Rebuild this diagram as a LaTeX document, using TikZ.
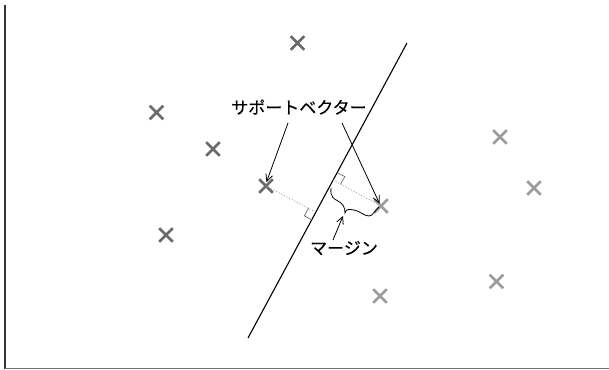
\documentclass[tikz,border=0pt]{standalone}
\usepackage{fontspec}
\newfontfamily\jp[FakeBold=0.4]{Noto Sans CJK JP}
\usetikzlibrary{shapes.misc,arrows.meta,calc}
\definecolor{darkx}{HTML}{6A6A6A}
\definecolor{lightx}{HTML}{9C9C9C}
\tikzset{
  xmark/.style={cross out,draw,minimum size=11pt,inner sep=0pt,line width=2.6pt},
  xdark/.style={xmark,draw=darkx},
  xlight/.style={xmark,draw=lightx},
  lbl/.style={font=\jp\fontsize{17}{20}\selectfont,inner sep=0pt,text=black},
  arr/.style={-{Straight Barb[length=7pt,width=7pt]},line width=0.8pt},
  dist/.style={dotted,draw=lightx,line width=0.9pt},
  rmark/.style={draw=darkx,line width=0.7pt},
}
\begin{document}
\begin{tikzpicture}[x=1pt,y=-1pt]
\useasboundingbox (0,0) rectangle (609,369);
% axes
\draw[line width=1.5pt,black!80] (5,5) -- (5,368.5);
\draw[line width=1.5pt,black!55] (5,368.5) -- (609,368.5);
% separating line
\coordinate (h1) at (248,338);
\coordinate (h2) at (407,43);
\draw[line width=1.1pt] (h1) -- (h2);
% dark crosses
\node[xdark] (a1) at (297.5,43) {};
\node[xdark] (a2) at (156.5,112.5) {};
\node[xdark] (a3) at (213,149) {};
\node[xdark] (s1) at (266,186) {};
\node[xdark] (a5) at (166,235) {};
% light crosses
\node[xlight] (b1) at (500,137) {};
\node[xlight] (b2) at (534,188) {};
\node[xlight] (s2) at (381,206) {};
\node[xlight] (b4) at (496.5,281.5) {};
\node[xlight] (b5) at (380,296) {};
% feet on the line
\coordinate (f1) at (316,212.3);
\coordinate (f2) at (333.1,180.1);
\draw[dist] (s1.center) -- (f1);
\draw[dist] (f2) -- (s2.center);
% right-angle marks
\draw[rmark] ($(f1)+(-7.5,-4.0)$) -- ++(-4.2,7.5) -- ($(f1)+(-4.2,7.5)$);
\draw[rmark] ($(f2)+(7.5,4.0)$) -- ++(4.2,-7.5) -- ($(f2)+(4.2,-7.5)$);
% labels
\node[lbl] (sv) at (299,107) {サポートベクター};
\node[lbl] (mg) at (344,248) {マージン};
% arrows
\coordinate (sva) at (288,123);
\coordinate (svb) at (342,123);
\draw[arr] (sva) -- ($(s1.center)+(0.5,-4)$);
\draw[arr] (svb) -- ($(s2.center)+(-1.5,-2.5)$);
% brace
\coordinate (bc) at (345,213);
\draw[line width=0.8pt] (331,188) .. controls (330,197) and (334,199) .. (338,201)
  .. controls (343,204) and (345,207) .. (bc)
  .. controls (346,209) and (349,209) .. (354,210)
  .. controls (360,211) and (364,216) .. (369,216)
  .. controls (373,216) and (375,210) .. (379,207);
\coordinate (mga) at (333,240);
\draw[arr] (mga) -- ($(bc)+(-2,3)$);
\end{tikzpicture}
\end{document}
